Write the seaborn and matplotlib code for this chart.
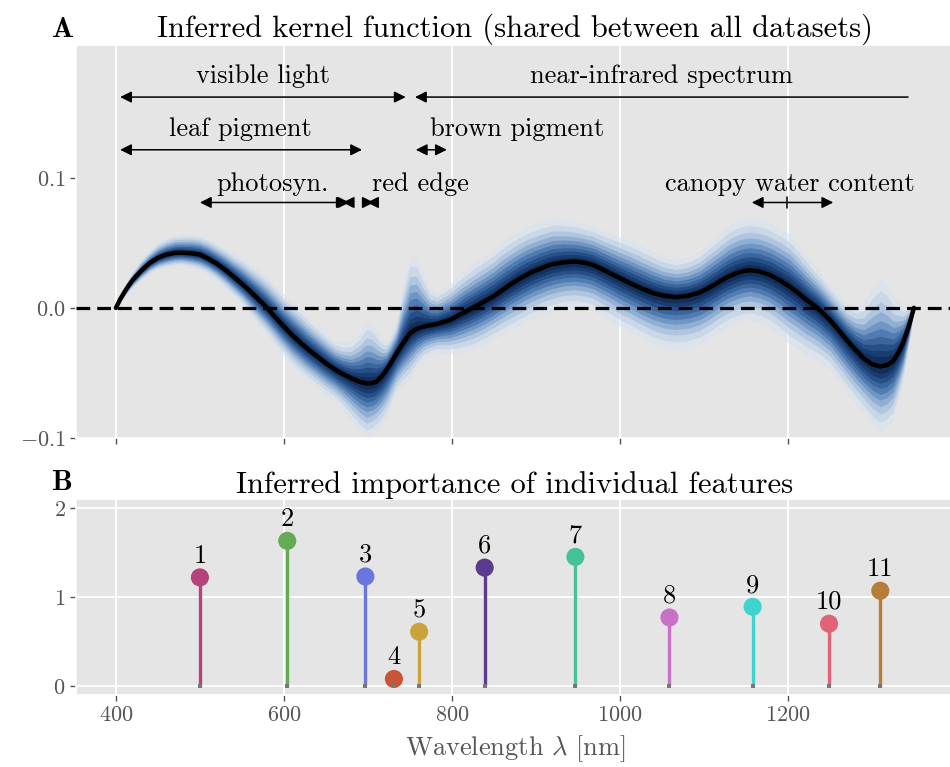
import numpy as np
import pandas as pd
import matplotlib
matplotlib.use("Agg")
import matplotlib.pyplot as plt
import seaborn as sns

# ---------------- data ----------------
wavelength = [400, 405, 410, 415, 420, 430, 440, 450, 460, 470, 478, 490, 500, 510, 520,
              530, 540, 550, 560, 570, 580, 590, 600, 610, 620, 630, 640, 650, 660, 670,
              680, 690, 698, 705, 710, 716, 722, 728, 734, 742, 750, 758, 766, 774, 782,
              790, 798, 805, 813, 825, 837, 849, 859, 869, 879, 889, 897, 905, 912, 920,
              933, 946, 957, 968, 978, 988, 1000, 1012, 1026, 1040, 1053, 1067, 1081, 1095,
              1107, 1119, 1129, 1139, 1147, 1155, 1166, 1178, 1190, 1202, 1212, 1222, 1235,
              1250, 1260, 1270, 1280, 1290, 1300, 1310, 1318, 1325, 1331, 1337, 1344, 1350]
kernel_mean = [0.000, 0.0065, 0.012, 0.017, 0.0215, 0.0285, 0.0344, 0.0385, 0.041, 0.0423,
               0.0425, 0.0420, 0.041, 0.0378, 0.034, 0.0293, 0.024, 0.0185, 0.0126, 0.0064,
               0.000, -0.0073, -0.0144, -0.021, -0.027, -0.0325, -0.0375, -0.0425, -0.047,
               -0.0508, -0.054, -0.0567, -0.058, -0.0578, -0.0567, -0.053, -0.0477, -0.0415,
               -0.035, -0.027, -0.0195, -0.0160, -0.0144, -0.0133, -0.0123, -0.0108, -0.0092,
               -0.0068, -0.004, 0.000, 0.0043, 0.0087, 0.0132, 0.0177, 0.0218, 0.0254,
               0.0280, 0.030, 0.0320, 0.0336, 0.0350, 0.0356, 0.0348, 0.033, 0.030, 0.0267,
               0.0228, 0.019, 0.0148, 0.0113, 0.0092, 0.0082, 0.0092, 0.0118, 0.0157, 0.0203,
               0.0240, 0.0267, 0.0283, 0.029, 0.0281, 0.0254, 0.0213, 0.0164, 0.0115, 0.0062,
               0.000, -0.0092, -0.0168, -0.0246, -0.0320, -0.0387, -0.0432, -0.045, -0.0440,
               -0.041, -0.035, -0.027, -0.014, 0.000]
# outer credible band half-widths (upper / lower)
band_upper = [0.002, 0.003, 0.005, 0.006, 0.007, 0.009, 0.010, 0.012, 0.013, 0.014,
              0.014, 0.015, 0.015, 0.016, 0.016, 0.017, 0.018, 0.020, 0.021, 0.023,
              0.024, 0.025, 0.025, 0.026, 0.026, 0.025, 0.024, 0.023, 0.022, 0.024,
              0.028, 0.038, 0.048, 0.046, 0.040, 0.030, 0.022, 0.022, 0.025, 0.045,
              0.060, 0.055, 0.040, 0.028, 0.024, 0.026, 0.028, 0.030, 0.032, 0.034,
              0.035, 0.036, 0.037, 0.037, 0.037, 0.037, 0.036, 0.036, 0.035, 0.035,
              0.033, 0.031, 0.030, 0.030, 0.030, 0.031, 0.032, 0.033, 0.033, 0.032,
              0.030, 0.029, 0.030, 0.032, 0.035, 0.037, 0.039, 0.040, 0.040, 0.040,
              0.040, 0.040, 0.040, 0.040, 0.037, 0.034, 0.030, 0.027, 0.027, 0.028,
              0.033, 0.042, 0.058, 0.068, 0.062, 0.050, 0.040, 0.028, 0.015, 0.003]
band_lower = [0.002, 0.003, 0.004, 0.005, 0.006, 0.007, 0.008, 0.009, 0.010, 0.010,
              0.010, 0.011, 0.012, 0.012, 0.013, 0.014, 0.015, 0.016, 0.018, 0.020,
              0.021, 0.022, 0.023, 0.024, 0.024, 0.024, 0.024, 0.024, 0.024, 0.027,
              0.032, 0.038, 0.042, 0.040, 0.038, 0.037, 0.036, 0.033, 0.030, 0.032,
              0.035, 0.030, 0.025, 0.023, 0.022, 0.024, 0.026, 0.028, 0.030, 0.032,
              0.033, 0.033, 0.034, 0.035, 0.036, 0.036, 0.036, 0.036, 0.036, 0.036,
              0.035, 0.035, 0.035, 0.035, 0.036, 0.036, 0.037, 0.037, 0.038, 0.039,
              0.040, 0.040, 0.040, 0.040, 0.039, 0.038, 0.038, 0.038, 0.038, 0.038,
              0.039, 0.040, 0.042, 0.044, 0.043, 0.042, 0.040, 0.038, 0.039, 0.040,
              0.041, 0.042, 0.046, 0.050, 0.048, 0.045, 0.038, 0.030, 0.016, 0.003]

feature_ids = ["1", "2", "3", "4", "5", "6", "7", "8", "9", "10", "11"]
feature_wavelength = [500, 604, 697, 731, 761, 839, 947, 1059, 1158, 1249, 1310]
feature_importance = [1.22, 1.63, 1.23, 0.08, 0.61, 1.33, 1.45, 0.77, 0.89, 0.70, 1.07]
feature_colors = ["#b5427a", "#65aa55", "#6a75dd", "#c85538", "#c9a43a", "#5c3a8e",
                  "#45c296", "#c971c6", "#3dd3cf", "#e06377", "#b87c3a"]

x_ticks = [400, 600, 800, 1000, 1200]

# ---------------- style ----------------
sns.set_theme(style="darkgrid", rc={"axes.facecolor": "#e5e5e5",
                                    "grid.color": "white", "grid.linewidth": 1.3})
plt.rcParams["font.family"] = ["cmr10"]
plt.rcParams["mathtext.fontset"] = "cm"
plt.rcParams["axes.formatter.use_mathtext"] = True
plt.rcParams["axes.unicode_minus"] = True
plt.rcParams["text.color"] = "black"

gray = "#555555"
fig = plt.figure(figsize=(9.5, 7.67), dpi=100)
ax1 = fig.add_axes([0.08, 0.4289, 0.924, 0.5124])
ax2 = fig.add_axes([0.08, 0.0939, 0.924, 0.2555])

# ---------------- panel A ----------------
df = pd.DataFrame({"wavelength": wavelength, "mean": kernel_mean,
                   "up": band_upper, "lo": band_lower})
fractions = [1.0, 0.86, 0.73, 0.62, 0.52, 0.43, 0.34, 0.26, 0.18, 0.11]
band_cols = sns.blend_palette(["#d6e2ef", "#8fb0d6", "#3f6fab", "#163f7a", "#0a1f44"],
                              len(fractions))
for f, c in zip(fractions, band_cols):
    ax1.fill_between(df["wavelength"], df["mean"] + f * df["up"], df["mean"] - f * df["lo"],
                     color=c, alpha=0.5, lw=0, zorder=2)
ax1.axhline(0, color="black", lw=2.3, ls=(0, (4.3, 2.2)), zorder=4)
sns.lineplot(data=df, x="wavelength", y="mean", color="black", lw=3.2, ax=ax1, zorder=5)

ax1.set_xlim(352.5, 1397.5)
ax1.set_ylim(-0.1, 0.202)
ax1.set_xticks(x_ticks)
ax1.set_xticklabels([])
ax1.set_yticks([-0.1, 0.0, 0.1])
ax1.yaxis.grid(False)
ax1.set_xlabel("")
ax1.set_ylabel("")
ax1.tick_params(axis="both", length=4, width=1, color=gray, labelcolor=gray,
                labelsize=16, bottom=True, left=True)
ax1.set_title("Inferred kernel function (shared between all datasets)", fontsize=22, pad=6)

afs = 19
def arrow(ax, x1, x2, y, style="<|-|>"):
    ax.annotate("", xy=(x2, y), xytext=(x1, y),
                arrowprops=dict(arrowstyle=style, color="black", lw=1.1,
                                shrinkA=0, shrinkB=0, mutation_scale=17))

y1, y2, y3 = 0.162, 0.1215, 0.081
arrow(ax1, 405, 745, y1)
ax1.text(575, y1 + 0.007, "visible light", ha="center", va="bottom", fontsize=afs)
arrow(ax1, 756, 1343, y1, style="<|-")
ax1.text(1050, y1 + 0.007, "near-infrared spectrum", ha="center", va="bottom", fontsize=afs)
arrow(ax1, 405, 693, y2)
ax1.text(548, y2 + 0.007, "leaf pigment", ha="center", va="bottom", fontsize=afs)
arrow(ax1, 757, 794, y2)
ax1.text(774, y2 + 0.007, "brown pigment", ha="left", va="bottom", fontsize=afs)
arrow(ax1, 500, 676, y3)
arrow(ax1, 670, 678, y3)
ax1.text(587, y3 + 0.005, "photosyn.", ha="center", va="bottom", fontsize=afs)
arrow(ax1, 699, 707, y3)
ax1.text(762, y3 + 0.005, "red edge", ha="center", va="bottom", fontsize=afs)
arrow(ax1, 1157, 1254, y3)
ax1.plot([1199, 1199], [y3 - 0.004, y3 + 0.004], color="black", lw=1.1)
ax1.text(1202, y3 + 0.005, "canopy water content", ha="center", va="bottom", fontsize=afs)

# ---------------- panel B ----------------
fdf = pd.DataFrame({"id": feature_ids, "wavelength": feature_wavelength,
                    "importance": feature_importance})
ax2.vlines(fdf["wavelength"], 0, fdf["importance"], colors=feature_colors, lw=2.4, zorder=3)
sns.scatterplot(data=fdf, x="wavelength", y="importance", hue="id",
                palette=feature_colors, s=170, edgecolor="none", legend=False,
                ax=ax2, zorder=4)
ax2.scatter(fdf["wavelength"], np.zeros(len(fdf)), marker="s", s=10,
            color="#777777", zorder=5, linewidths=0)
for _, r in fdf.iterrows():
    ax2.annotate(r["id"], xy=(r["wavelength"], r["importance"]), xytext=(0, 7),
                 textcoords="offset points", ha="center", va="bottom", fontsize=19)

ax2.set_xlim(352.5, 1397.5)
ax2.set_ylim(-0.1, 2.1)
ax2.set_xticks(x_ticks)
ax2.set_yticks([0, 1, 2])
ax2.tick_params(axis="both", length=4, width=1, color=gray, labelcolor=gray,
                labelsize=16, bottom=True, left=True)
ax2.set_ylabel("")
ax2.set_xlabel(r"Wavelength $\lambda$ [nm]", fontsize=19, color=gray, labelpad=6)
ax2.set_title("Inferred importance of individual features", fontsize=22, pad=4)

fig.text(0.066, 1 - 30 / 767, "A", fontsize=21, family="cmb10", ha="center", va="center")
fig.text(0.066, 1 - 483 / 767, "B", fontsize=21, family="cmb10", ha="center", va="center")

fig.savefig("out.png", dpi=100)
